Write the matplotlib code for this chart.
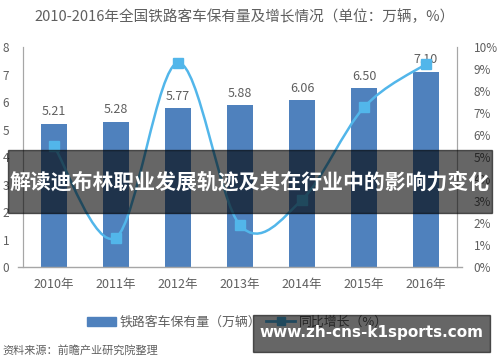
import matplotlib
matplotlib.use('Agg')
import matplotlib.pyplot as plt
from matplotlib.path import Path
from matplotlib.patches import PathPatch, Rectangle
from matplotlib.lines import Line2D
import numpy as np

plt.rcParams['font.family'] = ['Noto Sans CJK SC', 'DejaVu Sans']

# 数据
years = ['2010年', '2011年', '2012年', '2013年', '2014年', '2015年', '2016年']
stock = [5.21, 5.28, 5.77, 5.88, 6.06, 6.50, 7.10]          # 万辆
growth = [5.5, 1.34, 9.28, 1.9, 3.06, 7.26, 9.23]           # %
left_ticks = [0, 1, 2, 3, 4, 5, 6, 7, 8]
right_ticks = [0, 1, 2, 3, 4, 5, 6, 7, 8, 9, 10]

bar_color = '#4f81bd'
line_color = '#52b6ea'
text_gray = '#5f5f5f'

fig = plt.figure(figsize=(5, 3.62), dpi=100)
ax = fig.add_axes([0.046, 0.2624, 0.868, 0.6077])
ax2 = ax.twinx()

x = np.arange(len(years))
ax.bar(x, stock, width=0.42, color=bar_color, zorder=2)
for xi, v in zip(x, stock):
    ax.annotate(f'{v:.2f}', (xi, v), xytext=(0, 4), textcoords='offset points',
                ha='center', va='bottom', fontsize=9, color=text_gray)

ax.set_xlim(-0.5, len(years) - 0.5)
ax.set_ylim(0, 8)
ax.set_yticks(left_ticks)
ax.set_yticklabels([str(t) for t in left_ticks])
ax.set_xticks(x)
ax.set_xticklabels(years)
ax.tick_params(axis='y', length=0, pad=10, labelsize=8.5, labelcolor=text_gray)
ax.tick_params(axis='x', length=0, pad=8, labelsize=9, labelcolor=text_gray)

ax2.set_ylim(0, 10)
ax2.set_yticks(right_ticks)
ax2.set_yticklabels([f'{t}%' for t in right_ticks])
ax2.tick_params(axis='y', length=0, pad=12, labelsize=8.5, labelcolor=text_gray)

for a in (ax, ax2):
    a.spines['top'].set_visible(False)
    a.spines['bottom'].set_visible(False)
    a.spines['left'].set_color('#a6a6a6')
    a.spines['right'].set_color('#a6a6a6')
ax.axhline(0, xmin=-0.012, xmax=1.012, color='#a6a6a6', lw=1, clip_on=False, zorder=3)

# 平滑曲线 (Catmull-Rom -> Bezier)
pts = np.column_stack([x, growth]).astype(float)
verts = [tuple(pts[0])]
codes = [Path.MOVETO]
n = len(pts)
for i in range(n - 1):
    p0 = pts[i - 1] if i > 0 else pts[i]
    p1 = pts[i]
    p2 = pts[i + 1]
    p3 = pts[i + 2] if i + 2 < n else pts[i + 1]
    c1 = p1 + (p2 - p0) / 6
    c2 = p2 - (p3 - p1) / 6
    verts += [tuple(c1), tuple(c2), tuple(p2)]
    codes += [Path.CURVE4] * 3
ax2.add_patch(PathPatch(Path(verts, codes), facecolor='none', edgecolor=line_color,
                        lw=1.8, zorder=4))
ax2.plot(x, growth, ls='none', marker='s', ms=7, color=line_color, zorder=5)

# 标题
fig.text(0.49, 0.955, '2010-2016年全国铁路客车保有量及增长情况（单位：万辆，%）',
         ha='center', va='center', fontsize=10.5, color=text_gray)

# 图例
handles = [Rectangle((0, 0), 1, 1, color=bar_color),
           Line2D([0], [0], color=line_color, lw=2, marker='s', ms=6)]
fig.legend(handles, ['铁路客车保有量（万辆）', '同比增长（%）'], loc='center',
           bbox_to_anchor=(0.475, 0.11), ncol=2, frameon=False, fontsize=9.3,
           labelcolor=text_gray, handlelength=2.2, handletextpad=0.3, columnspacing=0.4)

fig.text(0.004, 0.033, '资料来源：前瞻产业研究院整理', ha='left', va='center',
         fontsize=8, color=text_gray)

# 遮罩横幅
fig.patches.append(Rectangle((0.016, 1 - 213 / 362), 0.968, 63 / 362,
                             transform=fig.transFigure, color='black', alpha=0.6, zorder=10))
fig.text(0.5, 1 - 182 / 362, '解读迪布林职业发展轨迹及其在行业中的影响力变化',
         ha='center', va='center', fontsize=15, fontweight='bold', color='white', zorder=11)

fig.patches.append(Rectangle((253 / 500, 1 - 352 / 362), 237 / 500, 37 / 362,
                             transform=fig.transFigure, color='black', alpha=0.6, zorder=10))
fig.text(371 / 500, 1 - 333 / 362, 'www.zh-cns-k1sports.com', ha='center', va='center',
         fontsize=11, fontweight='bold', color='white', family=['DejaVu Sans'], zorder=11)

fig.savefig('out.png', dpi=100)
